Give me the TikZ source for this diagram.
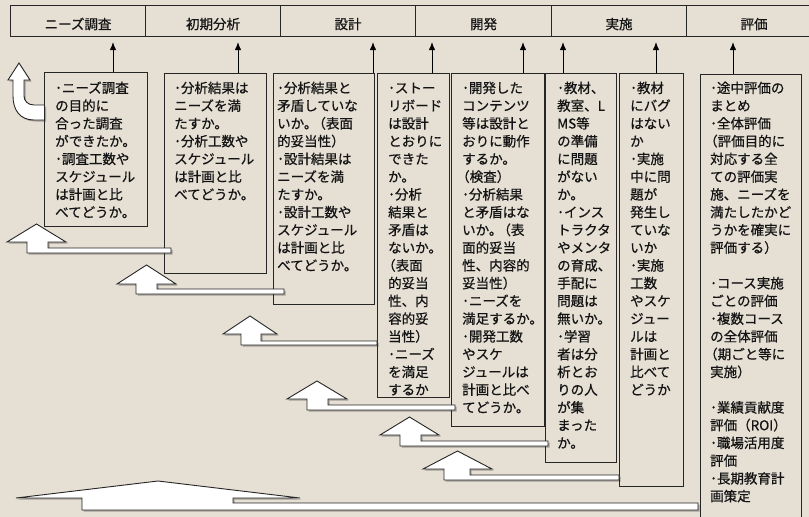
\documentclass[tikz,border=0pt]{standalone}
\usepackage{fontspec}
\setmainfont{Noto Sans CJK JP}[FakeBold=0.6]
\usetikzlibrary{arrows.meta,calc}
\definecolor{paper}{HTML}{E5DFD4}
\definecolor{edge}{HTML}{262626}
\definecolor{ink}{HTML}{141414}
\newcommand{\btxt}[1]{\parbox[t]{110pt}{\raggedright\fontsize{13.5}{17.75}\selectfont #1}}
\newcommand{\lpar}{\hspace*{-6pt}（}
\newcommand{\jk}{\kern-5pt}
\newcommand{\barrow}[9]{%
  \pgfmathsetmacro{\tipx}{(#1+#2)/2}%
  \begin{scope}[shift={(1.5,1.5)}]
  \path[shd] (\tipx,#4) -- (#2,#3) -- (#6,#3) -- (#6,#8) -- (#9,#8) -- (#9,#7) -- (#5,#7) -- (#5,#3) -- (#1,#3) -- cycle;
  \end{scope}
  \draw[blk] (\tipx,#4) -- (#2,#3) -- (#6,#3) -- (#6,#8) -- (#9,#8) -- (#9,#7) -- (#5,#7) -- (#5,#3) -- (#1,#3) -- cycle;}
\tikzset{
  hcell/.style={draw=edge, line width=1.1pt, minimum height=31pt, anchor=north west, inner sep=0pt},
  htxt/.style={font=\fontsize{13.5}{16}\selectfont, text=ink, inner sep=0pt},
  qbox/.style={draw=edge, line width=0.9pt, anchor=north west, inner sep=0pt},
  qtxt/.style={anchor=base west, inner sep=0pt, text=ink},
  conn/.style={draw=black, line width=0.9pt, -{Latex[length=8pt,width=6.5pt]}, shorten >=5pt},
  blk/.style={draw=edge, line width=0.9pt, fill=white, line join=miter},
  shd/.style={fill=black, fill opacity=.28}
}
\begin{document}
\begin{tikzpicture}[x=1pt,y=-1pt]
\fill[paper] (0,0) rectangle (809,517);
\useasboundingbox (0,0) rectangle (809,517);

% header
\node[hcell, minimum width=135pt] (h1) at (10,5) {};
\node[hcell, minimum width=135pt] (h2) at (145,5) {};
\node[hcell, minimum width=135pt] (h3) at (280,5) {};
\node[hcell, minimum width=136pt] (h4) at (415,5) {};
\node[hcell, minimum width=135pt] (h5) at (551,5) {};
\node[hcell, minimum width=135pt] (h6) at (686,5) {};
\node[htxt] (ht1) at ($(h1.center)+(0,3)$) {ニーズ調査};
\node[htxt] (ht2) at ($(h2.center)+(0,3)$) {初期分析};
\node[htxt] (ht3) at ($(h3.center)+(0,3)$) {設計};
\node[htxt] (ht4) at ($(h4.center)+(0,3)$) {開発};
\node[htxt] (ht5) at ($(h5.center)+(0,3)$) {実施};
\node[htxt] (ht6) at ($(h6.center)+(0,3)$) {評価};

% boxes
\node[qbox, minimum width=103pt, minimum height=154pt] (b1) at (44,72) {};
\node[qbox, minimum width=102pt, minimum height=200pt] (b2) at (164,73) {};
\node[qbox, minimum width=101pt, minimum height=231pt] (b3) at (273,73) {};
\node[qbox, minimum width=72pt, minimum height=324pt] (b4) at (377,73) {};
\node[qbox, minimum width=93pt, minimum height=353pt] (b5) at (451,73) {};
\node[qbox, minimum width=71pt, minimum height=389pt] (b6) at (545,73) {};
\node[qbox, minimum width=64pt, minimum height=413pt] (b7) at (619,73) {};
\node[qbox, minimum width=101pt, minimum height=470pt] (b8) at (700,74) {};

% texts
\node[qtxt] (t1) at ($(b1.north west)+(11,21)$) {\btxt{･ニーズ調査\\の目的に\\合った調査\\ができたか。\\･調査工数や\\スケジュール\\は計画と比\\べてどうか。}};
\node[qtxt] (t2) at ($(b2.north west)+(10,20)$) {\btxt{･分析結果は\\ニーズを満\\たすか。\\･分析工数や\\スケジュール\\は計画と比\\べてどうか。}};
\node[qtxt] (t3) at ($(b3.north west)+(4,20)$) {\btxt{･分析結果と\\矛盾していな\\いか。\jk（表面\\的妥当性）\\･設計結果は\\ニーズを満\\たすか。\\･設計工数や\\スケジュール\\は計画と比\\べてどうか。}};
\node[qtxt] (t4) at ($(b4.north west)+(11,20)$) {\btxt{･ストー\\リボード\\は設計\\とおりに\\できた\\か。\\･分析\\結果と\\矛盾は\\ないか。\\\lpar 表面\\的妥当\\性、内\\容的妥\\当性）\\･ニーズ\\を満足\\するか}};
\node[qtxt] (t5) at ($(b5.north west)+(11,20)$) {\btxt{･開発した\\コンテンツ\\等は設計と\\おりに動作\\するか。\\\lpar 検査）\\･分析結果\\と矛盾はな\\いか。\jk（表\\面的妥当\\性、内容的\\妥当性）\\･ニーズを\\満足するか。\\･開発工数\\やスケ\\ジュールは\\計画と比べ\\てどうか。}};
\node[qtxt] (t6) at ($(b6.north west)+(12,20)$) {\btxt{･教材、\\教室、L\\MS等\\の準備\\に問題\\がない\\か。\\･インス\\トラクタ\\やメンタ\\の育成、\\手配に\\問題は\\無いか。\\･学習\\者は分\\析とお\\りの人\\が集\\まった\\か。}};
\node[qtxt] (t7) at ($(b7.north west)+(11,20)$) {\btxt{･教材\\にバグ\\はない\\か\\･実施\\中に問\\題が\\発生し\\ていな\\いか\\･実施\\工数\\やスケ\\ジュー\\ルは\\計画と\\比べて\\どうか}};
\node[qtxt] (t8) at ($(b8.north west)+(10,19)$) {\btxt{･途中評価の\\まとめ\\･全体評価\\\lpar 評価目的に\\対応する全\\ての評価実\\施、ニーズを\\満たしたかど\\うかを確実に\\評価する）\\\mbox{}\\･コース実施\\ごとの評価\\･複数コース\\の全体評価\\\lpar 期ごと等に\\実施）\\\mbox{}\\･業績貢献度\\評価（ROI）\\･職場活用度\\評価\\･長期教育計\\画策定}};

% connectors to header
\coordinate (c1) at (113,0);
\coordinate (c2) at (238,0);
\coordinate (c3) at (373,0);
\coordinate (c4) at (432,0);
\coordinate (c5) at (523,0);
\coordinate (c6) at (563,0);
\coordinate (c7) at (656,0);
\coordinate (c8) at (733,0);
\draw[conn] (c1 |- b1.north) -- (c1 |- h1.south);
\draw[conn] (c2 |- b2.north) -- (c2 |- h2.south);
\draw[conn] (c3 |- b3.north) -- (c3 |- h3.south);
\draw[conn] (c4 |- b4.north) -- (c4 |- h4.south);
\draw[conn] (c5 |- b5.north) -- (c5 |- h4.south);
\draw[conn] (c6 |- b6.north) -- (c6 |- h5.south);
\draw[conn] (c7 |- b7.north) -- (c7 |- h5.south);
\draw[conn] (c8 |- b8.north) -- (c8 |- h6.south);

% bent arrow (top left)
\begin{scope}[shift={(1.5,1.5)}]
\path[shd] (19,63) -- (30,80) -- (24,80) -- (24,96) .. controls (24,101) and (28,105) .. (34,105) -- (44.5,105) -- (44.5,120) -- (34,120) .. controls (20,120) and (13,110) .. (13,96) -- (13,80) -- (8,80) -- cycle;
\end{scope}
\draw[blk] (19,63) -- (30,80) -- (24,80) -- (24,96) .. controls (24,101) and (28,105) .. (34,105) -- (44.5,105) -- (44.5,120) -- (34,120) .. controls (20,120) and (13,110) .. (13,96) -- (13,80) -- (8,80) -- cycle;

% block arrows
\barrow{7}{66}{242}{224}{27}{48}{253}{248}{171}
\barrow{117}{176}{284}{265}{136}{157}{294}{289}{284}
\barrow{223}{277}{334}{316}{241}{261}{345}{341}{377}
\barrow{287}{347}{399}{381}{307}{328}{410}{405}{455}
\barrow{380}{439}{435}{417}{400}{421}{446}{441}{548}
\barrow{423}{492}{469}{451}{444}{470}{480}{475}{619}
\barrow{16}{300}{498}{481}{82}{233}{510}{503}{698}
\end{tikzpicture}
\end{document}
